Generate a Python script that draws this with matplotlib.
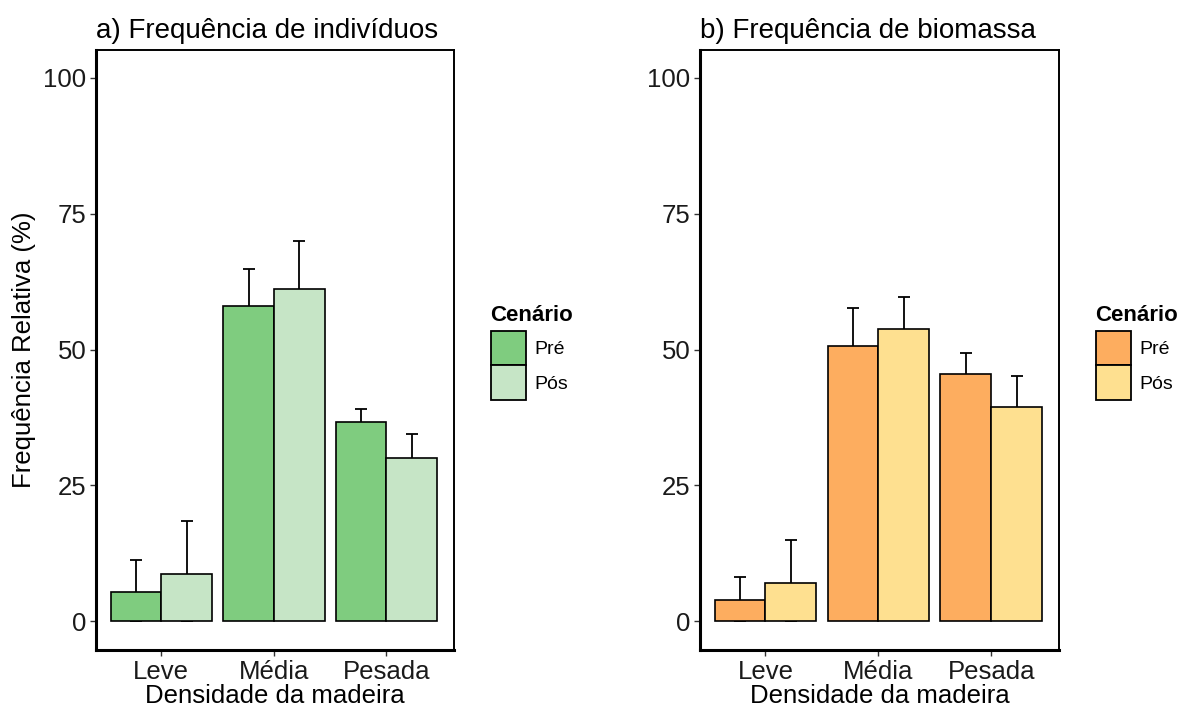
import matplotlib
matplotlib.use("Agg")
import matplotlib.pyplot as plt
import numpy as np
from matplotlib.patches import Patch

plt.rcParams['font.family'] = ['Liberation Sans', 'DejaVu Sans']

# dados
categorias = ["Leve", "Média", "Pesada"]
cenarios = ["Pré", "Pós"]

ind_pre = [5.3, 58.1, 36.6]
ind_pos = [8.6, 61.2, 30.1]
ind_pre_err = [5.9, 6.7, 2.4]
ind_pos_err = [9.8, 8.7, 4.4]

bio_pre = [3.9, 50.7, 45.4]
bio_pos = [7.0, 53.7, 39.5]
bio_pre_err = [4.2, 6.9, 4.0]
bio_pos_err = [7.9, 6.0, 5.6]

cores_a = ["#7fcc7f", "#c6e5c6"]
cores_b = ["#fdad5f", "#fee090"]

W, H = 1185, 715
fig = plt.figure(figsize=(W / 100, H / 100), dpi=100)

def painel(left_px, right_px, titulo, pre, pos, pre_err, pos_err, cores, ylabel):
    ax = fig.add_axes([left_px / W, 1 - 650 / H, (right_px - left_px) / W, (650 - 50) / H])
    x = np.arange(len(categorias))
    w = 0.45
    for i, (vals, errs) in enumerate([(pre, pre_err), (pos, pos_err)]):
        xs = x - w / 2 + i * w
        # barra de erro cortada no zero
        baixo = [min(e, v) for v, e in zip(vals, errs)]
        ax.errorbar(xs, vals, yerr=[baixo, errs], fmt='none', ecolor='black',
                    elinewidth=1.3, capsize=4, capthick=1.3, zorder=1)
        ax.bar(xs, vals, width=w, color=cores[i], edgecolor='black',
               linewidth=1.2, zorder=2)
    ax.set_xlim(-0.58, 2.6)
    ax.set_ylim(-5.33, 105.15)
    ax.set_yticks([0, 25, 50, 75, 100])
    ax.set_xticks(x)
    ax.set_xticklabels(categorias)
    ax.tick_params(labelsize=18.5, length=4, width=1, colors='#333333',
                   labelcolor='#1a1a1a', pad=3)
    for s in ['top', 'right']:
        ax.spines[s].set_linewidth(1.4)
    for s in ['left', 'bottom']:
        ax.spines[s].set_linewidth(2.2)
    ax.set_xlabel("Densidade da madeira", fontsize=18.5, labelpad=0)
    if ylabel:
        ax.set_ylabel("Frequência Relativa (%)", fontsize=18.5, labelpad=5)
    ax.set_title(titulo, loc='left', fontsize=20, pad=9)

    # legenda
    fig.text((right_px + 36) / W, 1 - 321 / H, "Cenário", fontsize=16,
             fontweight='bold', ha='left', va='baseline')
    handles = [Patch(facecolor=cores[0], edgecolor='black', linewidth=1.3, label=cenarios[0]),
               Patch(facecolor=cores[1], edgecolor='black', linewidth=1.3, label=cenarios[1])]
    ax.legend(handles=handles, loc='upper left',
              bbox_to_anchor=((right_px + 37) / W, 1 - 331 / H),
              bbox_transform=fig.transFigure, frameon=False,
              fontsize=14, handlelength=1.8, handleheight=2.35,
              labelspacing=0.0, handletextpad=0.45, borderaxespad=0,
              borderpad=0)
    return ax

painel(96, 454, "a) Frequência de indivíduos", ind_pre, ind_pos,
       ind_pre_err, ind_pos_err, cores_a, True)
painel(700, 1059, "b) Frequência de biomassa", bio_pre, bio_pos,
       bio_pre_err, bio_pos_err, cores_b, False)

fig.savefig("out.png", dpi=100)
